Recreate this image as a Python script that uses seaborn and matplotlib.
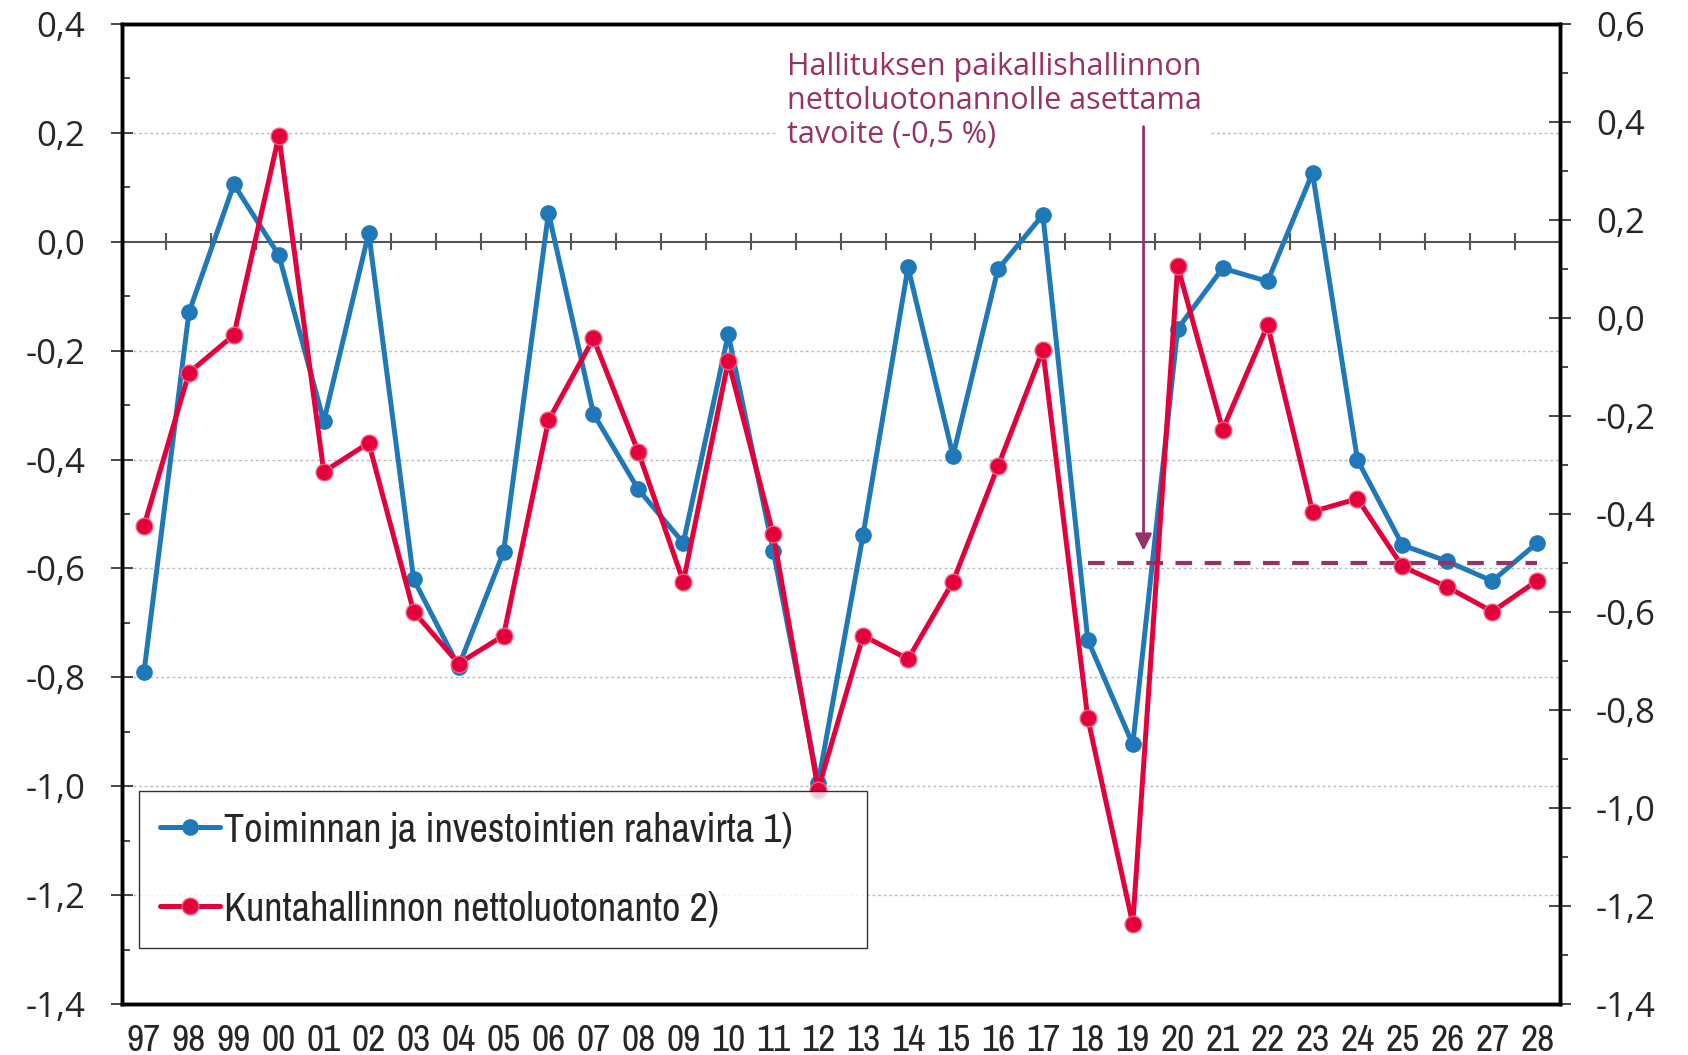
import matplotlib
matplotlib.use("Agg")
import matplotlib.pyplot as plt
from matplotlib import font_manager as fm
import seaborn as sns
import numpy as np
import pandas as pd

years = ["97", "98", "99", "00", "01", "02", "03", "04", "05", "06", "07", "08",
         "09", "10", "11", "12", "13", "14", "15", "16", "17", "18", "19", "20",
         "21", "22", "23", "24", "25", "26", "27", "28"]

# left axis, % of GDP
cash_flow = [-0.79, -0.13, 0.105, -0.025, -0.33, 0.016, -0.62, -0.78, -0.57, 0.053,
             -0.316, -0.455, -0.553, -0.17, -0.567, -0.994, -0.538, -0.047, -0.393,
             -0.051, 0.049, -0.731, -0.923, -0.16, -0.049, -0.073, 0.126, -0.401,
             -0.557, -0.587, -0.623, -0.553]

# right axis, % of GDP
net_lending = [-0.424, -0.112, -0.035, 0.371, -0.314, -0.255, -0.599, -0.705, -0.648,
               -0.209, -0.042, -0.274, -0.538, -0.088, -0.441, -0.962, -0.648, -0.696,
               -0.538, -0.303, -0.066, -0.817, -1.236, 0.105, -0.228, -0.015, -0.395,
               -0.369, -0.507, -0.549, -0.599, -0.536]

target = -0.5
target_from = "18"
arrow_year = 22.24  # slightly right of "19"

label_blue = "Toiminnan ja investointien rahavirta 1)"
label_red = "Kuntahallinnon nettoluotonanto 2)"
note = "Hallituksen paikallishallinnon\nnettoluotonannolle asettama\ntavoite (-0,5 %)"

blue = "#1f78b8"
red = "#e4003a"
purple = "#973266"

sns.set_style("white")

# look for a condensed face for the legend / x labels
narrow_names = sorted({f.name for f in fm.fontManager.ttflist
                       if "Narrow" in f.name or "Condensed" in f.name})
narrow = narrow_names[:1] + ["DejaVu Sans"]
wide = ["Open Sans", "DejaVu Sans"]
plt.rcParams["font.family"] = wide

df = pd.DataFrame({"x": np.arange(len(years)), "blue": cash_flow, "red": net_lending})

fig = plt.figure(figsize=(16.88, 10.55), dpi=100)
ax = fig.add_axes([0.072, 0.048, 0.852, 0.9296])
ax2 = ax.twinx()

sns.lineplot(data=df, x="x", y="blue", ax=ax, color=blue, lw=3.6, marker="o",
             markersize=12, markeredgewidth=0, label=label_blue, legend=False, zorder=5)
sns.lineplot(data=df, x="x", y="red", ax=ax2, color=red, lw=3.6, marker="o",
             markersize=12, markeredgecolor="#f06080", markeredgewidth=1,
             label=label_red, legend=False, zorder=5)

ax.set_xlim(-0.5, len(years) - 0.5)
ax.set_ylim(-1.4, 0.4)
ax2.set_ylim(-1.4, 0.6)

# grid + zero line with category separators
for v in np.arange(-1.2, 0.3, 0.2):
    if abs(v) > 1e-9:
        ax.axhline(v, color="#bbbbbb", lw=1, ls=(0, (2, 2)), zorder=0)
ax.axhline(0, color="#555555", lw=1.5, zorder=1)
ax.vlines(np.arange(len(years) - 1) + 0.5, -0.016, 0.016, color="#555555", lw=1.5, zorder=1)

# target line and annotation
ti = years.index(target_from)
ax2.plot([ti, len(years) - 1], [target, target], color=purple, lw=3, ls=(0, (4, 3)), zorder=4)
ax2.annotate("", xy=(arrow_year, -0.475), xytext=(arrow_year, 0.39),
             arrowprops=dict(arrowstyle="-|>", color=purple, lw=2, mutation_scale=25,
                             shrinkA=0, shrinkB=0), zorder=4)
ax2.text(14.3, 0.542, note, color=purple, fontsize=22, va="top", ha="left",
         linespacing=1.18, family=wide,
         bbox=dict(facecolor="white", edgecolor="none", pad=6), zorder=3)

def fmt(v):
    return f"{v:.1f}".replace(".", ",").replace("-0,0", "0,0")

ax.set_yticks(np.arange(-1.4, 0.41, 0.2))
ax.set_yticklabels([fmt(v) for v in np.arange(-1.4, 0.41, 0.2)], fontsize=25)
ax.set_yticks(np.arange(-1.3, 0.4, 0.2), minor=True)
ax2.set_yticks(np.arange(-1.4, 0.61, 0.2))
ax2.set_yticklabels([fmt(v) for v in np.arange(-1.4, 0.61, 0.2)], fontsize=25)
ax2.set_yticks(np.arange(-1.3, 0.6, 0.2), minor=True)

ax.tick_params(axis="y", which="major", direction="inout", length=16, width=1.2, pad=18, left=True)
ax.tick_params(axis="y", which="minor", direction="in", length=6, width=1.2, left=True)
ax2.tick_params(axis="y", which="major", direction="inout", length=16, width=1.2, pad=18, right=True)
ax2.tick_params(axis="y", which="minor", direction="out", length=6, width=1.2, right=True)

ax.set_xticks(np.arange(len(years)))
ax.set_xticklabels(years, fontsize=27, family=narrow, stretch="condensed")
ax.tick_params(axis="x", length=0, pad=14)

ax.set_xlabel("")
ax.set_ylabel("")
ax2.set_ylabel("")
for a in (ax, ax2):
    for s in a.spines.values():
        s.set_color("black")
        s.set_linewidth(2.5)

h1, l1 = ax.get_legend_handles_labels()
h2, l2 = ax2.get_legend_handles_labels()
legprop = fm.FontProperties(family=narrow, size=29, stretch="condensed")
leg = ax2.legend(h1 + h2, l1 + l2, loc="upper left",
                 bbox_to_anchor=(0.012, 0.058, 0.506, 0.16), mode="expand",
                 prop=legprop, frameon=True, fancybox=False,
                 edgecolor="black", handlelength=1.5, handletextpad=0.1,
                 labelspacing=1.04, borderpad=0.52, borderaxespad=0)
leg.get_frame().set_linewidth(1)
leg.set_zorder(10)

fig.savefig("out.png", dpi=100)
